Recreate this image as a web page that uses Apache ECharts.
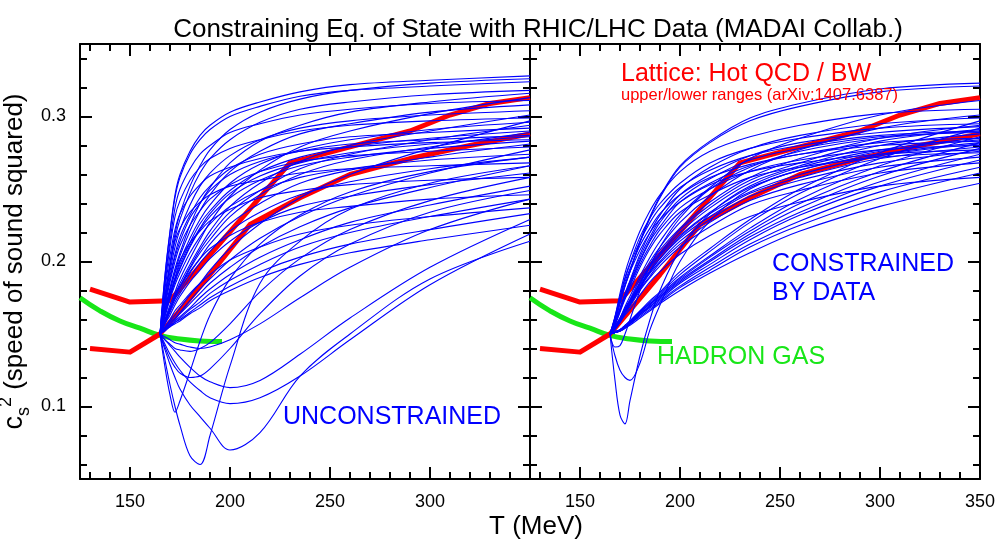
<!DOCTYPE html>
<html><head><meta charset="utf-8">
<script src="https://cdn.jsdelivr.net/npm/echarts@6/dist/echarts.min.js"></script>
<style>html,body{margin:0;padding:0;background:#fff}#c{width:1000px;height:550px}</style>
</head><body><div id="c"></div><script>
// ---------- data ----------
const T_GRID = [165,167.5,170,172.5,175,180,185,190,200,215,235,260,300,350];

const leftCurves = [
[.150,.191,.221,.246,.260,.276,.287,.294,.303,.310,.317,.322,.325,.328],
[.150,.176,.199,.219,.233,.252,.266,.277,.291,.303,.312,.318,.323,.326],
[.150,.190,.220,.244,.258,.274,.284,.291,.300,.307,.314,.318,.321,.324],
[.150,.175,.197,.216,.229,.247,.261,.271,.284,.296,.305,.310,.315,.318],
[.150,.167,.182,.195,.206,.225,.240,.251,.268,.283,.294,.303,.310,.316],
[.150,.187,.214,.237,.250,.264,.274,.280,.289,.295,.301,.305,.309,.311],
[.150,.166,.180,.193,.204,.221,.235,.246,.262,.276,.288,.295,.303,.308],
[.150,.173,.193,.210,.222,.239,.252,.261,.273,.284,.292,.297,.301,.304],
[.150,.159,.168,.177,.185,.198,.210,.221,.238,.254,.269,.280,.290,.301],
[.150,.184,.210,.231,.242,.256,.265,.271,.278,.284,.290,.294,.297,.299],
[.150,.165,.178,.189,.200,.216,.229,.239,.254,.267,.277,.284,.291,.296],
[.150,.159,.167,.176,.183,.196,.208,.218,.234,.249,.264,.274,.284,.294],
[.150,.171,.190,.205,.217,.232,.244,.252,.264,.274,.281,.286,.289,.292],
[.150,.164,.177,.188,.198,.213,.226,.235,.249,.262,.272,.279,.285,.290],
[.150,.158,.167,.175,.182,.195,.206,.215,.231,.246,.260,.270,.279,.289],
[.150,.164,.176,.187,.196,.211,.223,.233,.247,.259,.268,.275,.281,.286],
[.150,.181,.204,.222,.233,.245,.253,.259,.265,.271,.276,.279,.282,.284],
[.150,.158,.166,.174,.180,.192,.202,.212,.226,.240,.254,.263,.272,.281],
[.150,.169,.186,.200,.211,.225,.235,.243,.253,.262,.269,.273,.276,.279],
[.150,.154,.158,.161,.165,.173,.181,.188,.201,.216,.231,.245,.261,.277],
[.150,.162,.174,.184,.192,.206,.217,.226,.238,.249,.258,.264,.270,.274],
[.150,.157,.165,.172,.178,.189,.199,.207,.221,.234,.246,.255,.264,.272],
[.150,.177,.197,.214,.223,.234,.241,.246,.252,.256,.261,.264,.266,.268],
[.150,.153,.157,.160,.164,.171,.178,.185,.196,.210,.224,.237,.251,.266],
[.150,.157,.163,.170,.176,.186,.194,.202,.214,.227,.238,.245,.253,.261],
[.150,.166,.180,.192,.201,.213,.221,.228,.236,.244,.249,.253,.256,.258],
[.150,.153,.156,.159,.162,.168,.175,.181,.191,.203,.215,.227,.239,.252],
[.150,.160,.168,.176,.183,.193,.202,.209,.218,.227,.234,.238,.243,.246],
[.150,.153,.156,.158,.161,.167,.172,.178,.187,.198,.210,.220,.231,.243],
[.150,.155,.160,.166,.170,.178,.185,.191,.201,.210,.219,.225,.231,.237],
[.150,.153,.155,.158,.160,.165,.170,.175,.183,.193,.203,.212,.222,.233],
[.150,.152,.155,.157,.159,.164,.168,.173,.180,.189,.198,.206,.215,.225],
[.150,.160,.170,.179,.188,.202,.215,.227,.245,.263,.279,.290,.302,.313],
[.150,.154,.159,.163,.168,.177,.185,.194,.209,.226,.244,.260,.278,.297],
[.150,.171,.188,.203,.214,.230,.240,.249,.260,.269,.276,.281,.284,.287],
[.150,.163,.175,.186,.195,.210,.222,.231,.244,.256,.266,.272,.278,.283],
[.150,.132,.115,.100,.087,.066,.060,.080,.128,.185,.214,.236,.254,.266],
[.150,.139,.129,.120,.112,.101,.093,.085,.070,.082,.121,.150,.188,.214],
[.150,.127,.108,.096,.104,.124,.145,.163,.188,.212,.232,.248,.262,.272],
[.150,.143,.136,.130,.125,.117,.111,.106,.102,.106,.121,.146,.184,.219],
[.150,.146,.142,.138,.134,.127,.121,.117,.113,.118,.136,.161,.196,.229],
[.150,.141,.133,.127,.123,.120,.121,.126,.140,.164,.190,.212,.234,.249],
[.150,.146,.143,.140,.139,.138,.140,.144,.157,.179,.202,.222,.242,.258],
[.150,.148,.146,.144,.143,.141,.140,.141,.146,.157,.175,.196,.222,.243]
];

const rightCurves = [
[.150,.159,.171,.183,.193,.214,.231,.245,.266,.283,.299,.309,.319,.323],
[.150,.159,.171,.183,.193,.213,.230,.244,.265,.282,.297,.307,.317,.321],
[.150,.155,.161,.169,.176,.190,.203,.214,.232,.251,.271,.285,.301,.311],
[.150,.162,.178,.192,.203,.221,.235,.246,.262,.276,.286,.294,.302,.305],
[.150,.155,.161,.168,.174,.188,.200,.210,.227,.245,.263,.277,.292,.301],
[.150,.158,.168,.178,.187,.205,.220,.232,.250,.265,.278,.287,.295,.299],
[.150,.152,.153,.156,.159,.166,.173,.179,.193,.209,.229,.250,.275,.297],
[.150,.162,.176,.189,.199,.217,.230,.240,.254,.268,.278,.285,.292,.295],
[.150,.154,.160,.167,.173,.186,.198,.208,.223,.241,.258,.271,.285,.294],
[.150,.157,.167,.177,.186,.203,.217,.229,.246,.260,.273,.282,.289,.293],
[.150,.151,.153,.156,.159,.166,.172,.178,.191,.207,.227,.247,.271,.292],
[.150,.154,.160,.167,.173,.185,.197,.206,.222,.239,.256,.268,.283,.291],
[.150,.161,.175,.188,.198,.214,.227,.237,.251,.263,.273,.280,.287,.290],
[.150,.157,.167,.176,.185,.201,.215,.227,.243,.257,.270,.278,.286,.289],
[.150,.154,.160,.167,.172,.185,.196,.205,.220,.237,.254,.266,.280,.288],
[.150,.151,.153,.155,.158,.165,.171,.177,.189,.204,.223,.243,.266,.286],
[.150,.157,.166,.176,.184,.200,.214,.224,.241,.254,.266,.274,.282,.285],
[.150,.154,.159,.166,.171,.184,.194,.204,.218,.234,.251,.263,.276,.284],
[.150,.161,.174,.186,.195,.211,.223,.233,.246,.258,.267,.274,.280,.283],
[.150,.151,.153,.155,.158,.165,.171,.176,.188,.203,.221,.240,.262,.282],
[.150,.154,.159,.166,.171,.183,.193,.202,.217,.233,.248,.260,.273,.281],
[.150,.157,.166,.175,.183,.198,.211,.222,.237,.250,.262,.270,.277,.280],
[.150,.154,.159,.165,.171,.182,.193,.202,.216,.231,.247,.258,.271,.279],
[.150,.151,.153,.155,.158,.164,.170,.176,.187,.201,.219,.237,.259,.278],
[.150,.160,.173,.184,.193,.208,.220,.229,.241,.253,.262,.268,.274,.277],
[.150,.154,.159,.165,.170,.182,.192,.200,.214,.229,.245,.256,.268,.276],
[.150,.156,.165,.174,.181,.196,.209,.219,.234,.246,.258,.265,.272,.275],
[.150,.151,.152,.155,.157,.164,.169,.175,.186,.200,.217,.234,.255,.274],
[.150,.154,.159,.165,.170,.181,.190,.199,.212,.227,.242,.253,.265,.272],
[.150,.151,.152,.155,.157,.163,.169,.174,.185,.198,.215,.232,.252,.270],
[.150,.154,.158,.164,.169,.180,.189,.197,.210,.224,.239,.249,.261,.268],
[.150,.151,.152,.155,.157,.163,.168,.173,.183,.196,.212,.228,.248,.265],
[.150,.151,.152,.154,.157,.162,.167,.172,.182,.194,.210,.225,.244,.261],
[.150,.153,.158,.163,.167,.177,.186,.193,.205,.218,.231,.241,.252,.258],
[.150,.151,.152,.154,.156,.161,.166,.171,.180,.192,.206,.221,.238,.254],
[.150,.118,.094,.088,.104,.135,.160,.180,.208,.233,.252,.265,.277,.285],
[.150,.135,.125,.120,.118,.130,.153,.170,.200,.228,.250,.263,.274,.282],
[.150,.141,.142,.150,.160,.180,.197,.210,.230,.250,.265,.276,.285,.290]
];

const latticeUpper = [[130,.181],[150,.172],[170,.173],[230,.268],[260,.279],[290,.290],[310,.301],[330,.309],[350,.313]];
const latticeLower = [[130,.140],[150,.1375],[165,.150],[190,.191],[210,.2255],[235,.244],[260,.260],[290,.271],[320,.280],[350,.288]];
const hadronGas = [[125,.175],[135,.166],[145,.159],[155,.154],[165,.149],[175,.1465],[185,.1452],[196,.1448]];

const X_MAJOR = [150,200,250,300,350];
const X_MINOR = [130,140,160,170,180,190,210,220,230,240,260,270,280,290,310,320,330,340];
const Y_MAJOR = [0.1,0.2,0.3];
const Y_MINOR = [0.06,0.08,0.12,0.14,0.16,0.18,0.22,0.24,0.26,0.28,0.32,0.34];
const X_LABELS_LEFT = [150,200,250,300];
const X_LABELS_RIGHT = [150,200,250,300,350];
const Y_LABELS = [0.1,0.2,0.3];

// ---------- chart ----------
const FONT = "'Liberation Sans', Arial, Helvetica, sans-serif";
const BLUE = '#0000ff', RED = '#ff0000', GREEN = '#18e618';
const chart = echarts.init(document.getElementById('c'), null, {renderer:'canvas'});

function xAx(grid, pos, major, labels) {
  return {
    type:'value', gridIndex:grid, position:pos, min:125, max:350,
    axisLine:{show:major, onZero:false, lineStyle:{color:'#000', width:2}},
    axisTick:{show:true, inside:true, length: major?12:7, customValues: major?X_MAJOR:X_MINOR, lineStyle:{color:'#000', width:2}},
    axisLabel:{show:!!labels, customValues: labels||X_MAJOR, margin:14, color:'#000', fontSize:18, fontFamily:FONT},
    splitLine:{show:false}
  };
}
function yAx(grid, pos, major, labels, extra) {
  return Object.assign({
    type:'value', gridIndex:grid, position:pos, min:0.05, max:0.35,
    axisLine:{show:major, onZero:false, lineStyle:{color:'#000', width:2}},
    axisTick:{show:true, inside:true, length: major?12:7, customValues: major?Y_MAJOR:Y_MINOR, lineStyle:{color:'#000', width:2}},
    axisLabel:{show:!!labels, customValues: labels||Y_MAJOR, margin:14, color:'#000', fontSize:18, fontFamily:FONT,
      formatter: v => Number(v).toFixed(1)},
    splitLine:{show:false}
  }, extra||{});
}

const xAxes = [], yAxes = [];
[0,1].forEach(g => {
  xAxes.push(xAx(g,'bottom',true, g===0?X_LABELS_LEFT:X_LABELS_RIGHT));
  xAxes.push(xAx(g,'bottom',false,null));
  xAxes.push(xAx(g,'top',true,null));
  xAxes.push(xAx(g,'top',false,null));
  yAxes.push(yAx(g,'left',true, g===0?Y_LABELS:null, g===0?{
    name:'{c|c}{s|s}{p|2}{t| (speed of sound squared)}', nameLocation:'middle', nameGap:47, nameRotate:90,
    nameTextStyle:{color:'#000', fontFamily:FONT, fontSize:26, rich:{
      c:{fontSize:27, fontFamily:FONT, color:'#000', lineHeight:36, verticalAlign:'middle'},
      s:{fontSize:18, fontFamily:FONT, color:'#000', lineHeight:18, verticalAlign:'bottom'},
      p:{fontSize:18, fontFamily:FONT, color:'#000', lineHeight:18, verticalAlign:'top'},
      t:{fontSize:26, fontFamily:FONT, color:'#000', lineHeight:36, verticalAlign:'middle'}
    }}
  }:null));
  yAxes.push(yAx(g,'left',false,null));
  yAxes.push(yAx(g,'right',true,null));
  yAxes.push(yAx(g,'right',false,null));
});

const series = [];
[0,1].forEach(g => {
  const ax = g*4;
  series.push({type:'line', xAxisIndex:ax, yAxisIndex:ax, data:hadronGas, smooth:true, symbol:'none', z:2,
    lineStyle:{color:GREEN, width:5, cap:'butt'}, silent:true, animation:false});
  [latticeUpper, latticeLower].forEach(d => series.push({type:'line', xAxisIndex:ax, yAxisIndex:ax, data:d, symbol:'none', z:3,
    lineStyle:{color:RED, width:5, join:'round'}, silent:true, animation:false}));
  (g===0?leftCurves:rightCurves).forEach(c => series.push({
    type:'line', xAxisIndex:ax, yAxisIndex:ax, data:T_GRID.map((t,i)=>[t,c[i]]),
    smooth:0.35, symbol:'none', z:4,
    lineStyle:{color:BLUE, width:1.1}, silent:true, animation:false
  }));
});

function txt(x, y, text, size, color, align) {
  return {type:'text', x:x, y:y, z:10, silent:true, style:{text:text, fill:color, font: size+'px '+FONT,
    align:align||'left', verticalAlign:'middle', textAlign:align||'left', textVerticalAlign:'middle'}};
}

chart.setOption({
  animation:false,
  backgroundColor:'#fff',
  title:{text:'Constraining Eq. of State with RHIC/LHC Data (MADAI Collab.)', left:533, top:12, textAlign:'center',
    textStyle:{fontSize:26, fontWeight:'normal', fontFamily:FONT, color:'#000'}},
  grid:[{left:80, top:44, width:450, height:435, outerBoundsMode:'none', containLabel:false},
        {left:530, top:44, width:450, height:435, outerBoundsMode:'none', containLabel:false}],
  xAxis:xAxes, yAxis:yAxes, series:series,
  graphic:[
    txt(283, 417, 'UNCONSTRAINED', 25, BLUE),
    txt(772, 264, 'CONSTRAINED', 25, BLUE),
    txt(772, 293, 'BY DATA', 25, BLUE),
    txt(657, 357, 'HADRON GAS', 25, GREEN),
    txt(621, 74, 'Lattice: Hot QCD / BW', 25, RED),
    txt(621, 95, 'upper/lower ranges (arXiv:1407.6387)', 16.5, RED),
    txt(536, 527, 'T (MeV)', 26, '#000', 'center')
  ]
});
</script></body></html>
